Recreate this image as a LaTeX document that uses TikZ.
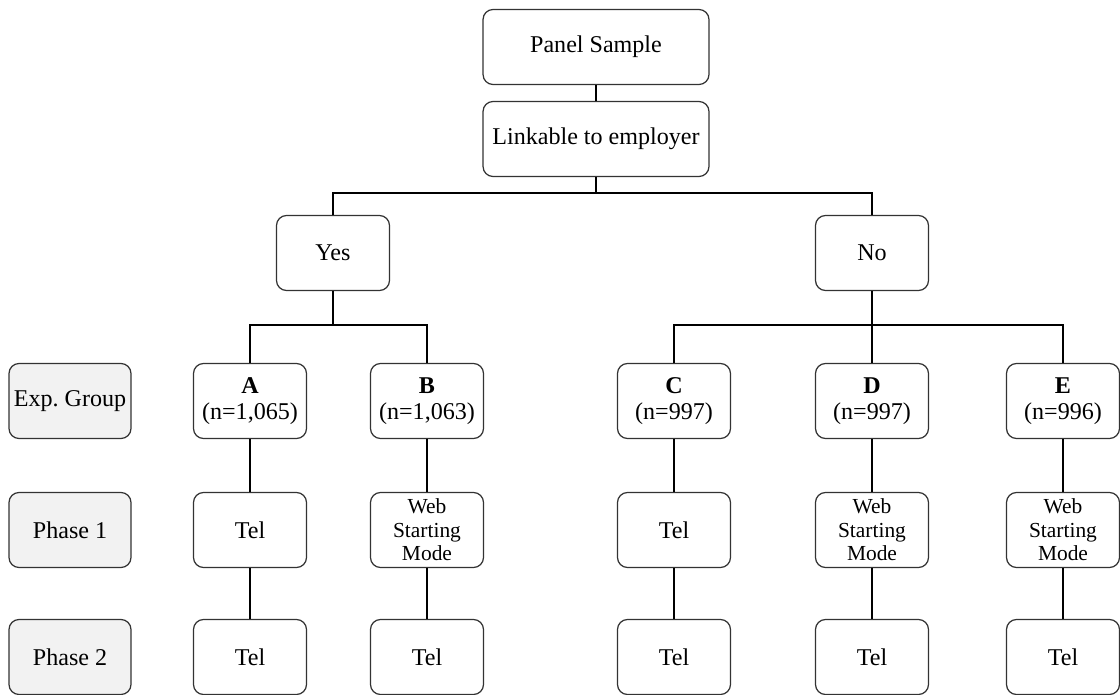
\documentclass[tikz,border=0pt]{standalone}
\usepackage{fontspec}
\setmainfont{Liberation Serif}
\begin{document}
\begin{tikzpicture}[x=0.02cm, y=-0.02cm] % one unit = one pixel of the reference
\tikzstyle{mybox} = [draw=black!80, line width=0.7pt, rounded corners=0.2cm, align=center, inner sep=0pt, minimum width=2.26cm, minimum height=1.5cm, font=\fontsize{13.7}{14.8}\selectfont] % common box
\tikzstyle{myweb} = [mybox, font=\fontsize{12.2}{13.4}\selectfont] % three-line box
\tikzstyle{mywide} = [mybox, minimum width=4.52cm] % top boxes
\tikzstyle{myrow} = [mybox, fill=black!5, minimum width=2.44cm] % row labels on the left
\tikzstyle{myline} = [line width=1.1pt] % connector
\tikzstyle{mythin} = [line width=0.6pt] % thin connector
\useasboundingbox (0,0) rectangle (1120,695);
% top
\node[mywide] (panel) at (596,47) {Panel Sample};
\node[mywide] (link) at (596,139) {Linkable to employer};
\node[mybox] (yes) at (333,253) {Yes};
\node[mybox] (no) at (872,253) {No};
\coordinate (bar1) at (596,193);
\coordinate (bar2) at (333,325);
\coordinate (bar3) at (872,325);
% row labels
\node[myrow] (grp) at (70,401) {Exp.\ Group};
\node[myrow] (ph1) at (70,530) {Phase 1};
\node[myrow] (ph2) at (70,657) {Phase 2};
% groups
\node[mybox] (a) at (250,401) {\textbf{A}\\(n=1,065)};
\node[mybox] (b) at (427,401) {\textbf{B}\\(n=1,063)};
\node[mybox] (c) at (674,401) {\textbf{C}\\(n=997)};
\node[mybox] (d) at (872,401) {\textbf{D}\\(n=997)};
\node[mybox] (e) at (1063,401) {\textbf{E}\\(n=996)};
% phase 1
\node[mybox] (a1) at (250,530) {Tel};
\node[myweb] (b1) at (427,530) {Web\\Starting\\Mode};
\node[mybox] (c1) at (674,530) {Tel};
\node[myweb] (d1) at (872,530) {Web\\Starting\\Mode};
\node[myweb] (e1) at (1063,530) {Web\\Starting\\Mode};
% phase 2
\node[mybox] (a2) at (250,657) {Tel};
\node[mybox] (b2) at (427,657) {Tel};
\node[mybox] (c2) at (674,657) {Tel};
\node[mybox] (d2) at (872,657) {Tel};
\node[mybox] (e2) at (1063,657) {Tel};
% connectors
\draw[myline] (panel) -- (link);
\draw[myline] (link) -- (bar1);
\draw[myline] (yes.north) -- (yes.north |- bar1) -- (no.north |- bar1) -- (no.north);
\draw[myline] (yes) -- (bar2);
\draw[myline] (a.north) -- (a.north |- bar2) -- (b.north |- bar2) -- (b.north);
\draw[myline] (no) -- (bar3);
\draw[myline] (c.north) -- (c.north |- bar3) -- (e.north |- bar3) -- (e.north);
\draw[mythin] (bar3) -- (d);
\draw[myline] (a) -- (a1);
\draw[mythin] (b) -- (b1);
\draw[myline] (c) -- (c1);
\draw[myline] (d) -- (d1);
\draw[myline] (e) -- (e1);
\draw[myline] (a1) -- (a2);
\draw[myline] (b1) -- (b2);
\draw[mythin] (c1) -- (c2);
\draw[myline] (d1) -- (d2);
\draw[myline] (e1) -- (e2);
\end{tikzpicture}
\end{document}
